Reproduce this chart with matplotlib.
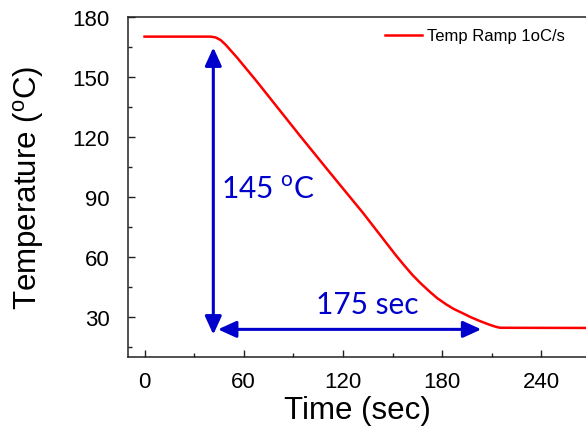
import matplotlib.pyplot as plt
from matplotlib.ticker import MultipleLocator

# temperature profile
time_s = [0, 40, 43, 46, 49, 52, 56, 68, 94, 112, 132, 152, 157, 162, 167, 172.5,
          177, 182.6, 187, 192.6, 197, 202.7, 208, 212, 215, 270]
temp_c = [170, 170, 169.6, 168.3, 166, 163.2, 159.5, 147.5, 120.5, 102.2, 82.1,
          60.8, 55.8, 51, 46.8, 42.6, 39.4, 36.2, 34, 31.8, 30, 28, 26.3, 25.2,
          24.6, 24.5]

x_ticks = [0, 60, 120, 180, 240]
y_ticks = [30, 60, 90, 120, 150, 180]

# annotation arrows: (t, T) endpoints
span_t = 41.6
span_T = (21.2, 164.6)
ramp_T = 23.8
ramp_t = (44.4, 203.7)

blue = "#0000CC"
W, H = 586, 435
fig = plt.figure(figsize=(W / 100, H / 100), dpi=100)
ax = fig.add_axes([128 / W, 77 / H, (W - 128) / W, 340.4 / H])

ax.plot(time_s, temp_c, color="#FF0000", lw=1.8, label="Temp Ramp 1oC/s")

arrow = dict(arrowstyle="<|-|>,head_length=1.1,head_width=0.5",
             mutation_scale=10, color=blue, lw=2.2, shrinkA=0, shrinkB=0)
ax.annotate("", xy=(span_t, span_T[0]), xytext=(span_t, span_T[1]), arrowprops=arrow)
ax.annotate("", xy=(ramp_t[1], ramp_T), xytext=(ramp_t[0], ramp_T), arrowprops=arrow)

ax.text(46.5, 94, "145 $^{\\mathregular{o}}$C", color=blue, fontsize=21.5,
        family="Lato", va="center", ha="left")
ax.text(134.5, 36.5, "175 sec", color=blue, fontsize=21.5,
        family="Lato", va="center", ha="center")

ax.set_xlim(-10, 267)
ax.set_ylim(10, 180)
ax.set_xticks(x_ticks)
ax.set_yticks(y_ticks)
ax.xaxis.set_minor_locator(MultipleLocator(30))
ax.yaxis.set_minor_locator(MultipleLocator(15))

for s in ["left", "bottom", "top"]:
    ax.spines[s].set_linewidth(1.1)
    ax.spines[s].set_color("#222222")
ax.spines["right"].set_visible(False)

ax.tick_params(which="both", direction="in", top=False, right=False,
               colors="#222222", width=1.0)
ax.tick_params(which="major", length=5, labelsize=16,
               labelfontfamily="Liberation Sans", labelcolor="black")
ax.tick_params(which="minor", length=2.7)
ax.tick_params(axis="x", which="major", pad=10)
ax.tick_params(axis="y", which="major", pad=13)

ax.set_xlabel("Time (sec)", fontsize=22.5, family="Liberation Sans", labelpad=2)
ax.set_ylabel("Temperature ($^{\\mathregular{o}}$C)", fontsize=22.5,
              family="Liberation Sans", labelpad=19)

ax.legend(loc="center left", bbox_to_anchor=(385 / W, 1 - 37 / H),
          bbox_transform=fig.transFigure, frameon=False, borderpad=0,
          borderaxespad=0, handlelength=2.2, handletextpad=0.3,
          prop={"family": "Liberation Sans", "size": 12})

fig.savefig("out.png", dpi=100)
